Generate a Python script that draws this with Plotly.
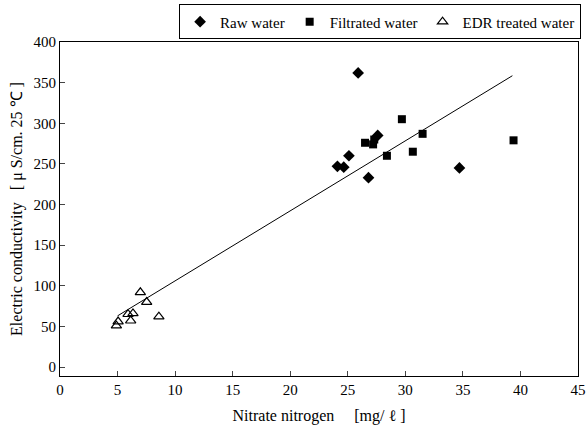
import plotly.graph_objects as go

# Data
raw_x = [25.9, 27.6, 25.1, 24.1, 24.65, 26.8, 34.7]
raw_y = [362, 285, 260, 247, 246, 233, 245]

filt_x = [29.7, 31.5, 39.4, 30.65, 28.4, 26.5, 27.2, 27.3]
filt_y = [305, 287, 279, 265, 260, 276, 274, 280]

edr_x = [6.98, 7.53, 5.91, 6.34, 6.14, 8.59, 5.05, 4.9]
edr_y = [92, 80, 65, 66, 57, 62, 56, 51]

fit_x = [5.0, 39.3]
fit_y = [63, 358.5]

x_ticks = [0, 5, 10, 15, 20, 25, 30, 35, 40, 45]
y_ticks = [0, 50, 100, 150, 200, 250, 300, 350, 400]

FONT = "Liberation Serif"

fig = go.Figure()
fig.add_trace(go.Scatter(x=fit_x, y=fit_y, mode="lines",
                         line=dict(color="black", width=1), showlegend=False))
fig.add_trace(go.Scatter(x=raw_x, y=raw_y, mode="markers", name="Raw water",
                         marker=dict(symbol="diamond", size=9, color="black")))
fig.add_trace(go.Scatter(x=filt_x, y=filt_y, mode="markers", name="Filtrated water",
                         marker=dict(symbol="square", size=8, color="black")))
fig.add_trace(go.Scatter(x=edr_x, y=edr_y, mode="markers", name="EDR treated water",
                         marker=dict(symbol="triangle-up-open", size=9, color="black",
                                     line=dict(width=1.2, color="black"))))

fig.update_layout(
    width=588, height=428,
    margin=dict(l=60, r=10, t=42, b=52, autoexpand=False),
    paper_bgcolor="white", plot_bgcolor="white",
    font=dict(family=FONT, color="black", size=14),
    legend=dict(orientation="h", x=1.006, xanchor="right", y=1.06, yanchor="middle",
                bordercolor="black", borderwidth=1, bgcolor="white",
                font=dict(family=FONT, size=15, color="black"),
                itemwidth=30, tracegroupgap=0),
)
fig.update_xaxes(range=[0, 45], tickvals=x_ticks, ticks="inside", ticklen=5,
                 showline=True, linecolor="black", linewidth=1, mirror=True,
                 showgrid=False, zeroline=False,
                 title=dict(text="Nitrate nitrogen&nbsp;&nbsp;&nbsp;&nbsp;&nbsp;[mg/ ℓ ]",
                            font=dict(family=FONT, size=16), standoff=12),
                 tickfont=dict(family=FONT, size=15, color="black"))
fig.update_yaxes(range=[-11, 400], tickvals=y_ticks, ticks="inside", ticklen=5,
                 showline=True, linecolor="black", linewidth=1, mirror=True,
                 showgrid=False, zeroline=False,
                 title=dict(text="Electric conductivity&nbsp;&nbsp;&nbsp;[ μ S/cm. 25 ℃ ]",
                            font=dict(family=FONT, size=16), standoff=6),
                 tickfont=dict(family=FONT, size=15, color="black"))

fig.write_html("out.html")
